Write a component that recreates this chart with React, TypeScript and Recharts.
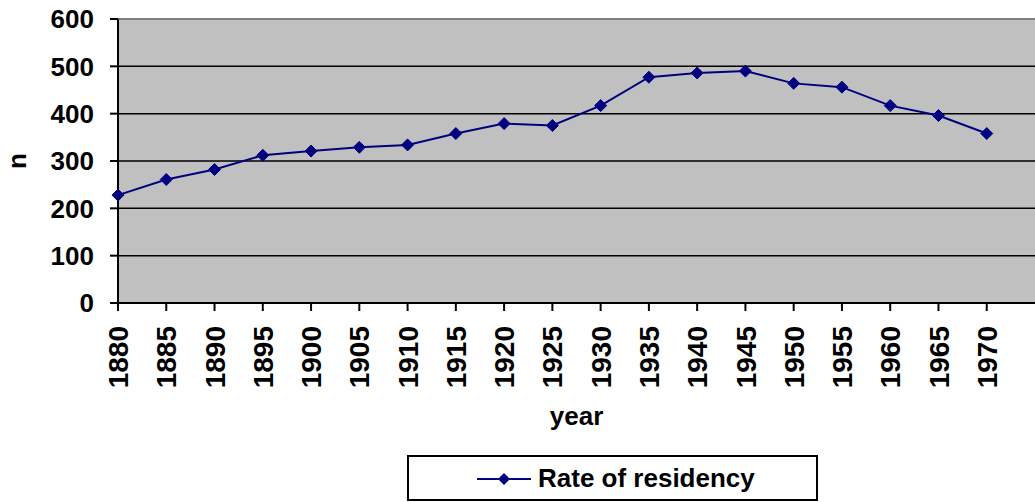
import React from 'react';
import { LineChart, Line, XAxis, YAxis, CartesianGrid, ReferenceLine, Legend, Label } from 'recharts';

const years = [1880, 1885, 1890, 1895, 1900, 1905, 1910, 1915, 1920, 1925, 1930, 1935, 1940, 1945, 1950, 1955, 1960, 1965, 1970];
const residency = [228, 261, 282, 312, 321, 329, 334, 358, 379, 375, 417, 477, 486, 490, 464, 456, 417, 396, 358];
const yTicks = [0, 100, 200, 300, 400, 500, 600];
const yearDomain = [1880, 1975];
const seriesName = 'Rate of residency';

const data = years.map((year, i) => ({ year, rate: residency[i] }));

const FONT = "Arial, 'Liberation Sans', sans-serif";
const NAVY = '#000080';

const Diamond = (props: any) => {
  const { cx, cy, index } = props;
  if (cx == null || cy == null) return null;
  return <path key={`d-${index}`} d={`M${cx},${cy - 6}L${cx + 6},${cy}L${cx},${cy + 6}L${cx - 6},${cy}Z`} fill={NAVY} stroke={NAVY} />;
};

const XTick = (props: any) => {
  const { x, y, payload } = props;
  return (
    <g transform={`translate(${x},${y})`}>
      <text transform="rotate(-90)" textAnchor="end" dy="0.36em" fontFamily={FONT} fontWeight="bold" fontSize={28} fill="#000">
        {payload.value}
      </text>
    </g>
  );
};

const YLabel = (props: any) => {
  const { viewBox } = props;
  const x = viewBox.x + 19.5;
  const y = viewBox.y + viewBox.height / 2;
  return (
    <text x={x} y={y} transform={`rotate(-90, ${x}, ${y})`} textAnchor="middle" dy="0.26em" fontFamily={FONT} fontWeight="bold" fontSize={26} fill="#000">
      n
    </text>
  );
};

const LegendBox = (props: any) => {
  const item = props.payload && props.payload[0];
  return (
    <div style={{ position: 'relative', width: 411, height: 46, boxSizing: 'border-box', border: '2px solid #000', background: '#fff' }}>
      <svg width={60} height={20} style={{ position: 'absolute', left: 66, top: 12 }}>
        <line x1={2} y1={10} x2={56} y2={10} stroke={NAVY} strokeWidth={2} />
        <path d="M29,4L35,10L29,16L23,10Z" fill={NAVY} />
      </svg>
      <span style={{ position: 'absolute', left: 129, top: 6, fontFamily: FONT, fontWeight: 'bold', fontSize: 26, lineHeight: '30px', color: '#000', whiteSpace: 'nowrap' }}>
        {item ? item.value : seriesName}
      </span>
    </div>
  );
};

export default function App() {
  return (
    <div style={{ position: 'absolute', left: 0, top: 0, width: 1035, height: 502, background: '#fff' }}>
      <LineChart width={1035} height={502} data={data} margin={{ top: 19, right: 0, bottom: 0, left: 0 }}>
        <CartesianGrid vertical={false} fill="#C0C0C0" fillOpacity={1} stroke="#000" strokeWidth={1.5} strokeOpacity={1} />
        <ReferenceLine y={600} stroke="#808080" strokeWidth={2} />
        <XAxis
          dataKey="year"
          type="number"
          domain={yearDomain}
          ticks={years}
          interval={0}
          height={199}
          tick={<XTick />}
          tickSize={8}
          tickMargin={15}
          axisLine={{ stroke: '#000', strokeWidth: 2 }}
          tickLine={{ stroke: '#000', strokeWidth: 2 }}
        >
          <Label value="year" position="insideBottom" offset={77} style={{ fontFamily: FONT, fontWeight: 'bold', fontSize: 26, fill: '#000' }} />
        </XAxis>
        <YAxis
          domain={[0, 600]}
          ticks={yTicks}
          width={118}
          tickSize={8}
          tickMargin={16}
          axisLine={{ stroke: '#000', strokeWidth: 2 }}
          tickLine={{ stroke: '#000', strokeWidth: 2 }}
          tick={{ fontFamily: FONT, fontWeight: 'bold', fontSize: 26, fill: '#000' }}
          label={<YLabel />}
        />
        <Line
          type="linear"
          dataKey="rate"
          name={seriesName}
          stroke={NAVY}
          strokeWidth={2}
          dot={<Diamond />}
          activeDot={false}
          isAnimationActive={false}
        />
        <Legend
          layout="horizontal"
          verticalAlign="middle"
          align="center"
          wrapperStyle={{ left: 407, top: 455, width: 411, height: 46 }}
          content={<LegendBox />}
        />
      </LineChart>
    </div>
  );
}
